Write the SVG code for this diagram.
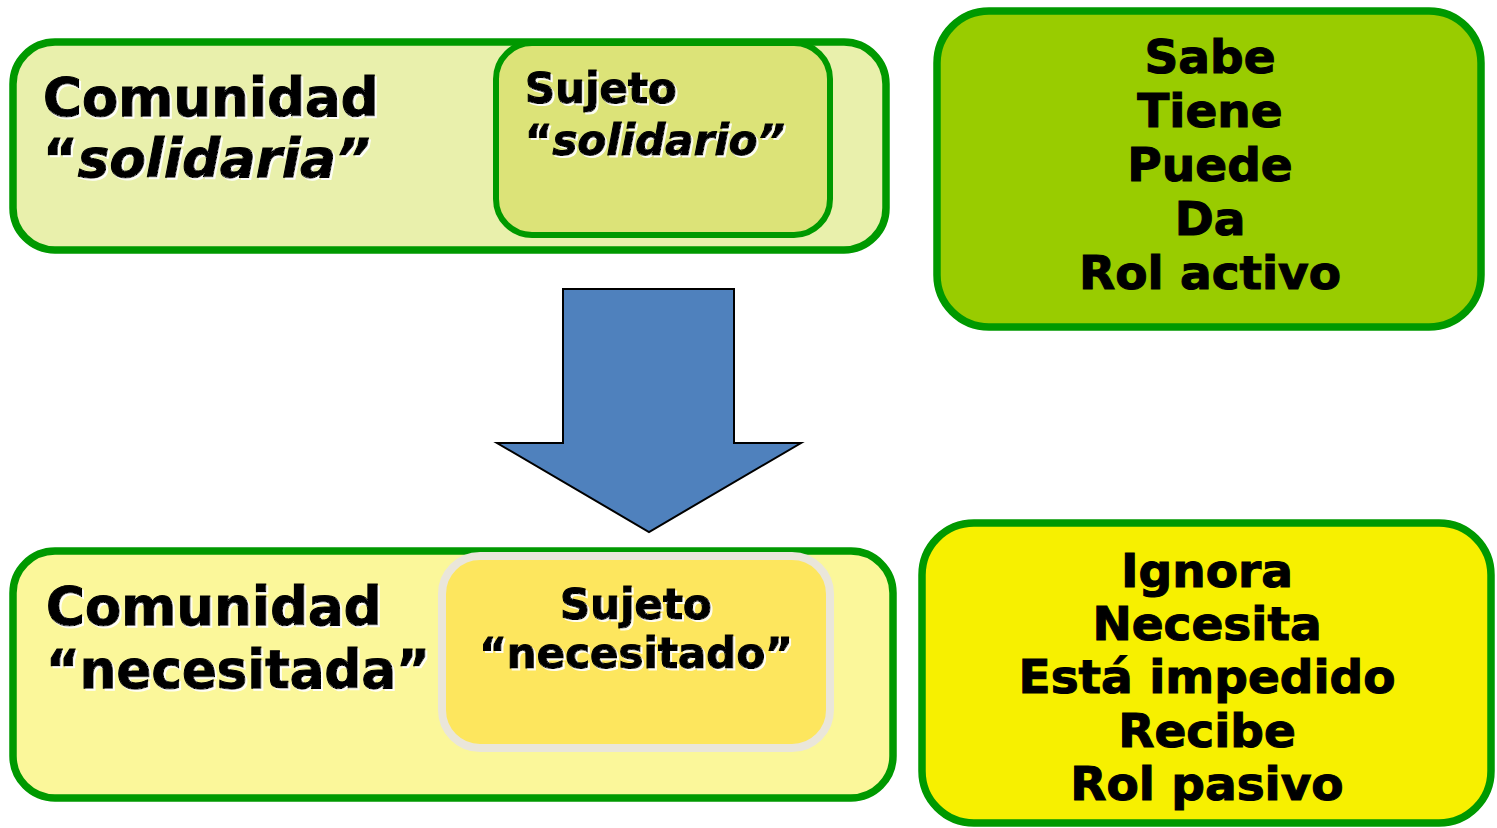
<svg xmlns="http://www.w3.org/2000/svg" width="1497" height="828" viewBox="0 0 1497 828">
<style>
  text { font-family: "DejaVu Sans", Verdana, sans-serif; font-weight: bold; fill: #000; stroke: #000; stroke-width: 1.1; }
  .sh { filter: url(#ts); }
  .big { font-size: 53px; }
  .mid { font-size: 42px; }
  .list { font-size: 47px; text-anchor: middle; }
  .it { font-style: italic; }
  .green { stroke: #009900; stroke-width: 7.5; }
</style>
<defs>
  <filter id="ts" x="-5%" y="-10%" width="110%" height="130%">
    <feDropShadow dx="2" dy="2" stdDeviation="0.6" flood-color="#ffffff" flood-opacity="0.9"/>
  </filter>
</defs>
<rect width="1497" height="828" fill="#ffffff"/>

<g id="comunidad-solidaria">
  <rect class="green" x="13" y="42" width="873" height="208" rx="42" fill="#E9F0AC"/>
  <text class="big sh" x="43" y="116">Comunidad</text>
  <text class="big sh" x="43" y="177">“<tspan class="it">solidaria”</tspan></text>
</g>

<g id="sujeto-solidario">
  <rect x="496" y="43" width="334" height="192" rx="36" fill="#DCE378" stroke="#009900" stroke-width="6"/>
  <text class="mid sh" x="525" y="103">Sujeto</text>
  <text class="mid sh" x="525" y="155">“<tspan class="it">solidario”</tspan></text>
</g>

<g id="activo">
  <rect class="green" x="937" y="11" width="544" height="316" rx="52" fill="#99CC00"/>
  <text class="list" x="1210" y="73">Sabe</text>
  <text class="list" x="1210" y="127">Tiene</text>
  <text class="list" x="1210" y="181">Puede</text>
  <text class="list" x="1210" y="235">Da</text>
  <text class="list" x="1210" y="289">Rol activo</text>
</g>

<g id="connectors">
  <polygon points="563,289 734,289 734,443 801,443 649,532 497,443 563,443" fill="#4F81BD" stroke="#000" stroke-width="2"/>
</g>

<g id="comunidad-necesitada">
  <rect class="green" x="13" y="551" width="880" height="247" rx="42" fill="#FBF79A"/>
  <text class="big sh" x="46" y="625">Comunidad</text>
  <text class="big sh" x="46" y="688" textLength="384" lengthAdjust="spacingAndGlyphs">“necesitada”</text>
</g>

<g id="sujeto-necesitado">
  <rect x="442" y="556" width="388" height="192" rx="38" fill="#FDE65E" stroke="#EAE6DA" stroke-width="8"/>
  <text class="mid sh" x="636" y="619" text-anchor="middle">Sujeto</text>
  <text class="mid sh" x="636" y="668" text-anchor="middle">“necesitado”</text>
</g>

<g id="pasivo">
  <rect class="green" x="922" y="523" width="569" height="300" rx="52" fill="#F7F000"/>
  <text class="list" x="1207" y="587">Ignora</text>
  <text class="list" x="1207" y="640">Necesita</text>
  <text class="list" x="1207" y="693">Está impedido</text>
  <text class="list" x="1207" y="747">Recibe</text>
  <text class="list" x="1207" y="800">Rol pasivo</text>
</g>
</svg>
